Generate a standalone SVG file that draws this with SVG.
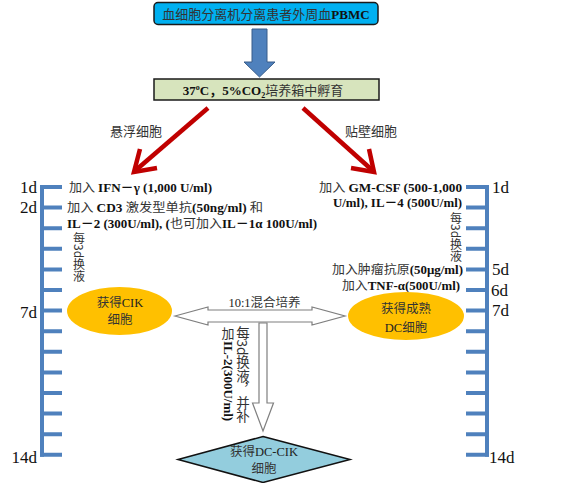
<svg xmlns="http://www.w3.org/2000/svg" width="576" height="483" viewBox="0 0 576 483">
<style>
.t{font-family:"Liberation Serif","Noto Sans CJK SC",serif;fill:#222}
.c{font-family:"Noto Sans CJK SC","Liberation Sans",sans-serif;fill:#333}
.b{font-weight:bold;font-family:"Liberation Serif","Noto Sans CJK SC",serif;fill:#111}
.day{font-family:"Liberation Serif",serif;font-size:17px;fill:#111}
.tick{stroke:#4F81BD;stroke-width:4;fill:none}
.red{stroke:#C00000;stroke-width:4.5;fill:none;stroke-linecap:butt}
.hollow{fill:#fff;stroke:#7F7F7F;stroke-width:1.2}
.v{writing-mode:vertical-rl}
</style>
<rect width="576" height="483" fill="#fff"/>

<g id="pbmc">
<rect x="154" y="2.5" width="224" height="22" rx="4" fill="#00B0F0" stroke="#1a1a1a" stroke-width="1.5"/>
<text x="266" y="18.5" text-anchor="middle" font-size="13"><tspan class="c" fill="#111">血细胞分离机分离患者外周血</tspan><tspan class="b">PBMC</tspan></text>
</g>

<g id="incubate">
<rect x="154" y="79" width="225" height="21" fill="#D7E4BD" stroke="#1a1a1a" stroke-width="1.5"/>
<text x="263" y="95" text-anchor="middle" font-size="13"><tspan class="b">37</tspan><tspan class="b" font-size="8" dy="-5">o</tspan><tspan class="b" dy="5">C，5%CO</tspan><tspan class="b" font-size="8" dy="3">2</tspan><tspan class="c" fill="#111" dy="-3">培养箱中孵育</tspan></text>
</g>

<g id="scale-left">
<line class="tick" x1="42" y1="185" x2="42" y2="456.8"/>
<path class="tick" d="M40 187H62M40 207.6H62M40 228.2H62M40 248.8H62M40 269.4H62M40 290H62M40 310.6H62M40 331.2H62M40 351.8H62M40 372.4H62M40 393H62M40 413.6H62M40 434.2H62M40 454.8H62"/>
<text class="day" x="37" y="193" text-anchor="end">1d</text>
<text class="day" x="37" y="213" text-anchor="end">2d</text>
<text class="day" x="37" y="318" text-anchor="end">7d</text>
<text class="day" x="37" y="463" text-anchor="end">14d</text>
</g>

<g id="scale-right">
<line class="tick" x1="487" y1="185" x2="487" y2="456.8"/>
<path class="tick" d="M466 187H489M466 207.6H489M466 228.2H489M466 248.8H489M466 269.4H489M466 290H489M466 310.6H489M466 331.2H489M466 351.8H489M466 372.4H489M466 393H489M466 413.6H489M466 434.2H489M466 454.8H489"/>
<text class="day" x="492" y="193">1d</text>
<text class="day" x="492" y="275">5d</text>
<text class="day" x="491" y="296">6d</text>
<text class="day" x="492" y="316">7d</text>
<text class="day" x="489" y="463">14d</text>
</g>

<g id="connectors">
<polygon points="252,29 267,29 267,62 275,62 259.5,77 244,62 252,62" fill="#4F81BD" stroke="#385D8A" stroke-width="1"/>
<line class="red" x1="208" y1="108" x2="136" y2="170"/>
<polyline class="red" points="140,149 134,172 157,168"/>
<line class="red" x1="303" y1="108" x2="372" y2="170"/>
<polyline class="red" points="351,168 374,172 369,149"/>
<polygon class="hollow" points="175,316 208,307 208,310 312,310 312,307 345,316 312,325 312,322 208,322 208,325"/>
<polygon class="hollow" points="259,323 267,323 267,403 273.5,403 263,431 252.5,403 259,403"/>
<text class="c" x="136" y="136" text-anchor="middle" font-size="13">悬浮细胞</text>
<text class="c" x="371" y="136" text-anchor="middle" font-size="13">贴壁细胞</text>
<text x="264.5" y="307" text-anchor="middle" font-size="12.5"><tspan class="t">10:1</tspan><tspan class="c">混合培养</tspan></text>
<text class="c v" x="243" y="326" font-size="13.5">每3d换液，并补</text>
<text class="c" x="228" y="338" text-anchor="middle" font-size="13">加</text>
<text class="b" transform="translate(223.5,341) rotate(90)" font-size="13">IL-2(300U/ml)</text>
</g>

<g id="cik-steps">
<text x="69" y="192" font-size="12" textLength="143" lengthAdjust="spacingAndGlyphs"><tspan class="c">加入 </tspan><tspan class="b">IFN－γ (1,000 U/ml)</tspan></text>
<text x="67" y="212" font-size="12" textLength="196" lengthAdjust="spacingAndGlyphs"><tspan class="c">加入 </tspan><tspan class="b">CD3 </tspan><tspan class="c">激发型单抗</tspan><tspan class="b">(50ng/ml)</tspan><tspan class="c">  和</tspan></text>
<text x="67" y="228" font-size="12" textLength="250" lengthAdjust="spacingAndGlyphs"><tspan class="b">IL－2 (300U/ml), (</tspan><tspan class="c">也可加入</tspan><tspan class="b">IL－1α 100U/ml)</tspan></text>
<text class="c v" x="79" y="232" font-size="12">每3d换液</text>
</g>

<g id="dc-steps">
<text x="462" y="192" font-size="12" text-anchor="end" textLength="143" lengthAdjust="spacingAndGlyphs"><tspan class="c">加入 </tspan><tspan class="b">GM-CSF (500-1,000</tspan></text>
<text x="462" y="207" font-size="12" text-anchor="end" class="b" textLength="129" lengthAdjust="spacingAndGlyphs">U/ml), IL－4 (500U/ml)</text>
<text class="c v" x="456" y="212" font-size="12">每3d换液</text>
<text x="463" y="274" font-size="12" text-anchor="end" textLength="131" lengthAdjust="spacingAndGlyphs"><tspan class="c">加入肿瘤抗原</tspan><tspan class="b">(50μg/ml)</tspan></text>
<text x="460" y="290" font-size="12" text-anchor="end" textLength="118" lengthAdjust="spacingAndGlyphs"><tspan class="c">加入</tspan><tspan class="b">TNF-α(500U/ml)</tspan></text>
</g>

<g id="cik">
<ellipse cx="119.5" cy="311" rx="52.5" ry="24" fill="#FFC000"/>
<text x="120" y="307" text-anchor="middle" font-size="12.5"><tspan class="c">获得</tspan><tspan class="t" fill="#333">CIK</tspan></text>
<text class="c" x="120" y="324" text-anchor="middle" font-size="12.5">细胞</text>
</g>

<g id="dc">
<ellipse cx="406" cy="316" rx="58" ry="24" fill="#FFC000"/>
<text class="c" x="406" y="313" text-anchor="middle" font-size="12.5">获得成熟</text>
<text x="406" y="331.5" text-anchor="middle" font-size="12.5"><tspan class="t" fill="#333">DC</tspan><tspan class="c">细胞</tspan></text>
</g>

<g id="dccik">
<polygon points="263,436.5 350,459.5 263,482.5 178,459.5" fill="#93CDDD" stroke="#111" stroke-width="1.5"/>
<text x="264" y="455.5" text-anchor="middle" font-size="12.5"><tspan class="c">获得</tspan><tspan class="t" fill="#333">DC-CIK</tspan></text>
<text class="c" x="264" y="472.5" text-anchor="middle" font-size="12.5">细胞</text>
</g>
</svg>
